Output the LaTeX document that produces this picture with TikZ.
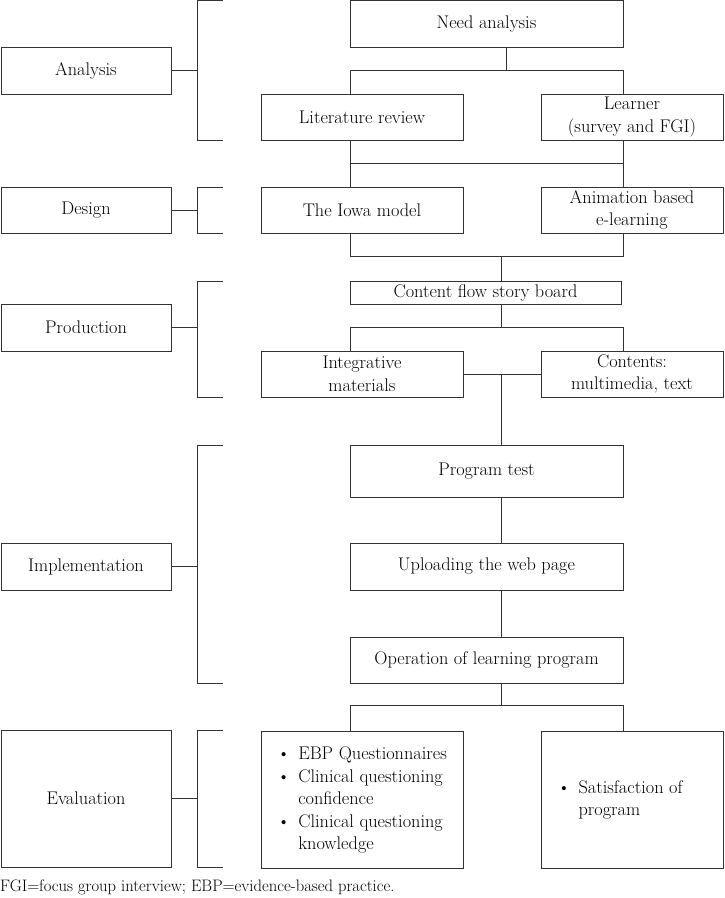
\documentclass[tikz,border=0pt]{standalone}
\usetikzlibrary{calc}
\begin{document}
\begin{tikzpicture}[x=1pt,y=-1pt,
  every node/.style={font=\fontsize{18.3}{22.5}\selectfont},
  box/.style={draw=black!80, line width=0.9pt, align=center, inner sep=0pt},
  conn/.style={draw=black!80, line width=0.9pt},
  brk/.style={draw=black!80, line width=0.9pt},
  notestyle/.style={anchor=west, inner sep=0pt, font=\fontsize{16.6}{19}\selectfont}]
\useasboundingbox (0,0) rectangle (724,898);

% left phase boxes
\node[box, minimum width=170pt, minimum height=47pt] (an) at (86,70.5) {Analysis};
\node[box, minimum width=170pt, minimum height=46pt] (de) at (86,210) {Design};
\node[box, minimum width=170pt, minimum height=47pt] (pr) at (86,327.5) {Production};
\node[box, minimum width=170pt, minimum height=47pt] (im) at (86,566.5) {Implementation};
\node[box, minimum width=170pt, minimum height=137pt] (ev) at (86,798.5) {Evaluation};

% brackets
\coordinate (bx) at (197,0);
\draw[brk] (223,0.5) -- (197,0.5) -- (197,140) -- (223,140);
\draw[brk] (223,187) -- (197,187) -- (197,233) -- (223,233);
\draw[brk] (223,281) -- (197,281) -- (197,397) -- (223,397);
\draw[brk] (223,445) -- (197,445) -- (197,683) -- (223,683);
\draw[brk] (223,730) -- (197,730) -- (197,867) -- (223,867);
\draw[conn] (an.east) -- (an.east -| bx);
\draw[conn] (de.east) -- (de.east -| bx);
\draw[conn] (pr.east) -- (pr.east -| bx);
\draw[conn] (im.east) -- (im.east -| bx);
\draw[conn] (ev.east) -- (ev.east -| bx);

% right column
\node[box, minimum width=273pt, minimum height=46.5pt] (need) at (486.5,23.75) {Need analysis};
\node[box, minimum width=202pt, minimum height=46pt] (lit) at (362,117) {Literature review};
\node[box, minimum width=182pt, minimum height=46pt] (lea) at (632,117) {Learner\\(survey and FGI)};
\node[box, minimum width=202pt, minimum height=46pt] (iowa) at (362,210) {The Iowa model};
\node[box, minimum width=182pt, minimum height=46pt] (anim) at (632,210) {Animation based\\e-learning};
\node[box, minimum width=271pt, minimum height=23pt] (cfs) at (485.5,292.5) {Content flow story board};
\node[box, minimum width=202pt, minimum height=46pt] (integ) at (362,374) {Integrative\\materials};
\node[box, minimum width=182pt, minimum height=46pt] (cont) at (632,374) {Contents:\\multimedia, text};
\node[box, minimum width=273pt, minimum height=52pt] (ptest) at (486.5,471) {Program test};
\node[box, minimum width=273pt, minimum height=47pt] (upl) at (486.5,566.5) {Uploading the web page};
\node[box, minimum width=273pt, minimum height=46pt] (oper) at (486.5,660) {Operation of learning program};
\node[box, minimum width=202pt, minimum height=137pt] (ev1) at (362,800) {\begin{tabular}{@{}l@{\hspace{8pt}}l@{}}
\textbullet & EBP Questionnaires\\
\textbullet & Clinical questioning\\
 & confidence\\
\textbullet & Clinical questioning\\
 & knowledge
\end{tabular}};
\node[box, minimum width=182pt, minimum height=137pt] (ev2) at (632,800) {\begin{tabular}{@{}l@{\hspace{8pt}}l@{}}
\textbullet & Satisfaction of\\
 & program
\end{tabular}\hspace{24pt}};

% bus coordinates
\coordinate (L) at (350.4,0);
\coordinate (R) at (623.3,0);
\coordinate (M) at (501.4,0);
\coordinate (J1) at (506.5,70.7);
\coordinate (J2) at (0,163.3);
\coordinate (J3) at (0,256.7);
\coordinate (J4) at (0,327.7);
\coordinate (J5) at (0,705.7);

% connectors
\draw[conn] (need.south -| J1) -- (J1);
\draw[conn] (lit.north -| L) -- (J1 -| L) -- (J1 -| R) -- (lea.north -| R);
\draw[conn] (lit.south -| L) -- (iowa.north -| L);
\draw[conn] (lea.south -| R) -- (anim.north -| R);
\draw[conn] (J2 -| L) -- (J2 -| R);
\draw[conn] (iowa.south -| L) -- (J3 -| L) -- (J3 -| R) -- (anim.south -| R);
\draw[conn] (J3 -| M) -- (cfs.north -| M);
\draw[conn] (cfs.south -| M) -- (J4 -| M);
\draw[conn] (integ.north -| L) -- (J4 -| L) -- (J4 -| R) -- (cont.north -| R);
\draw[conn] (integ.east) -- (cont.west);
\draw[conn] (integ.east -| M) -- (ptest.north -| M);
\draw[conn] (ptest.south -| M) -- (upl.north -| M);
\draw[conn] (upl.south -| M) -- (oper.north -| M);
\draw[conn] (oper.south -| M) -- (J5 -| M);
\draw[conn] (ev1.north -| L) -- (J5 -| L) -- (J5 -| R) -- (ev2.north -| R);

% footnote
\node[notestyle] (fn) at (0,887) {FGI=focus group interview; EBP=evidence-based practice.};
\end{tikzpicture}
\end{document}
